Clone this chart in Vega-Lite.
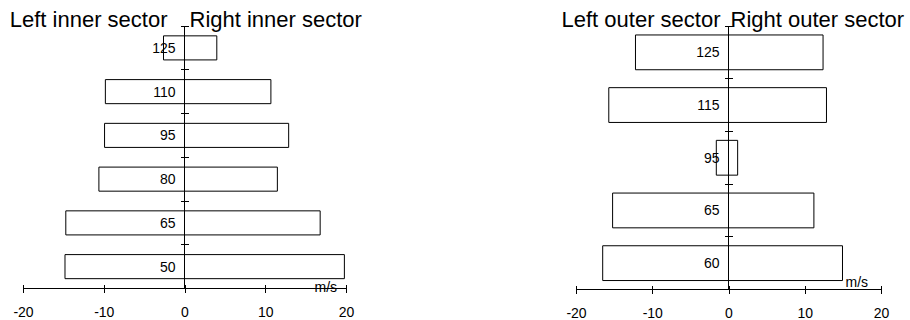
{
  "$schema": "https://vega.github.io/schema/vega-lite/v6.json",
  "padding": {"left": 9, "top": 9, "right": 0, "bottom": 0},
  "spacing": 199,
  "config": {"view": {"stroke": null}, "font": "Liberation Sans", "text": {"color": "black"}},
  "datasets": {
    "inner": [
      {"speed": "125", "left": -2.6, "right": 4.0},
      {"speed": "110", "left": -9.8, "right": 10.7},
      {"speed": "95", "left": -9.9, "right": 12.9},
      {"speed": "80", "left": -10.6, "right": 11.5},
      {"speed": "65", "left": -14.7, "right": 16.8},
      {"speed": "50", "left": -14.8, "right": 19.8}
    ],
    "outer": [
      {"speed": "125", "left": -12.2, "right": 12.4},
      {"speed": "115", "left": -15.7, "right": 12.85},
      {"speed": "95", "left": -1.6, "right": 1.2},
      {"speed": "65", "left": -15.2, "right": 11.2},
      {"speed": "60", "left": -16.5, "right": 14.95}
    ]
  },
  "hconcat": [
    {
      "width": 323,
      "height": 262.5,
      "layer": [
        {
          "data": {"name": "inner"},
          "mark": {"type": "bar", "height": {"band": 0.55}, "fill": "white", "stroke": "black", "strokeWidth": 1},
          "encoding": {
            "y": {"field": "speed", "type": "nominal", "scale": {"domain": ["125", "110", "95", "80", "65", "50"], "paddingInner": 0, "paddingOuter": 0},
              "axis": {"orient": "left", "offset": -165.5, "domain": false, "labels": false, "ticks": true, "tickSize": 8, "bandPosition": 0, "tickColor": "black", "title": null, "grid": false}},
            "x": {"field": "left", "type": "quantitative", "scale": {"domain": [-20, 20], "nice": false},
              "axis": {"values": [-20, -10, 0, 10, 20], "offset": -4, "tickSize": 8, "domain": false, "grid": false, "labelPadding": 13, "labelFontSize": 14, "labelColor": "black", "tickColor": "black", "labelExpr": "toString(datum.value)", "labelFlush": false,
                "title": "m/s", "titleX": 291, "titleY": 7, "titleAlign": "left", "titleBaseline": "alphabetic", "titleFontSize": 14, "titleFontWeight": "normal", "titleColor": "black"}},
            "x2": {"field": "right"}
          }
        },
        {
          "data": {"name": "inner"},
          "mark": {"type": "text", "align": "right", "baseline": "middle", "dx": -9, "dy": 1, "fontSize": 14},
          "encoding": {"x": {"datum": 0}, "y": {"field": "speed", "type": "nominal"}, "text": {"field": "speed"}}
        },
        {
          "data": {"values": [{"a": 1}]},
          "mark": {"type": "rule", "color": "black"},
          "encoding": {"x": {"datum": 0}}
        },
        {
          "data": {"values": [{"a": 1}]},
          "mark": {"type": "rule", "color": "black"},
          "encoding": {"y": {"datum": "50", "bandPosition": 1}}
        },
        {
          "data": {"values": [{"t": "Left inner sector"}]},
          "mark": {"type": "text", "align": "right", "baseline": "alphabetic", "dx": -17, "dy": 1, "fontSize": 22},
          "encoding": {"x": {"datum": 0}, "y": {"datum": "125", "bandPosition": 0}, "text": {"field": "t"}}
        },
        {
          "data": {"values": [{"t": "Right inner sector"}]},
          "mark": {"type": "text", "align": "left", "baseline": "alphabetic", "dx": 5, "dy": 1, "fontSize": 22},
          "encoding": {"x": {"datum": 0}, "y": {"datum": "125", "bandPosition": 0}, "text": {"field": "t"}}
        }
      ]
    },
    {
      "width": 305,
      "height": 263.5,
      "layer": [
        {
          "data": {"name": "outer"},
          "mark": {"type": "bar", "height": {"band": 0.66}, "fill": "white", "stroke": "black", "strokeWidth": 1},
          "encoding": {
            "y": {"field": "speed", "type": "nominal", "scale": {"domain": ["125", "115", "95", "65", "60"], "paddingInner": 0, "paddingOuter": 0},
              "axis": {"orient": "left", "offset": -156.5, "domain": false, "labels": false, "ticks": true, "tickSize": 8, "bandPosition": 0, "tickColor": "black", "title": null, "grid": false}},
            "x": {"field": "left", "type": "quantitative", "scale": {"domain": [-20, 20], "nice": false},
              "axis": {"values": [-20, -10, 0, 10, 20], "offset": -4, "tickSize": 8, "domain": false, "grid": false, "labelPadding": 13, "labelFontSize": 14, "labelColor": "black", "tickColor": "black", "labelExpr": "toString(datum.value)", "labelFlush": false,
                "title": "m/s", "titleX": 269, "titleY": 1, "titleAlign": "left", "titleBaseline": "alphabetic", "titleFontSize": 14, "titleFontWeight": "normal", "titleColor": "black"}},
            "x2": {"field": "right"}
          }
        },
        {
          "data": {"name": "outer"},
          "mark": {"type": "text", "align": "right", "baseline": "middle", "dx": -9, "dy": 1, "fontSize": 14},
          "encoding": {"x": {"datum": 0}, "y": {"field": "speed", "type": "nominal"}, "text": {"field": "speed"}}
        },
        {
          "data": {"values": [{"a": 1}]},
          "mark": {"type": "rule", "color": "black"},
          "encoding": {"x": {"datum": 0}}
        },
        {
          "data": {"values": [{"a": 1}]},
          "mark": {"type": "rule", "color": "black"},
          "encoding": {"y": {"datum": "60", "bandPosition": 1}}
        },
        {
          "data": {"values": [{"t": "Left outer sector"}]},
          "mark": {"type": "text", "align": "right", "baseline": "alphabetic", "dx": -8, "dy": 1, "fontSize": 22},
          "encoding": {"x": {"datum": 0}, "y": {"datum": "125", "bandPosition": 0}, "text": {"field": "t"}}
        },
        {
          "data": {"values": [{"t": "Right outer sector"}]},
          "mark": {"type": "text", "align": "left", "baseline": "alphabetic", "dx": 2, "dy": 1, "fontSize": 22},
          "encoding": {"x": {"datum": 0}, "y": {"datum": "125", "bandPosition": 0}, "text": {"field": "t"}}
        }
      ]
    }
  ]
}
